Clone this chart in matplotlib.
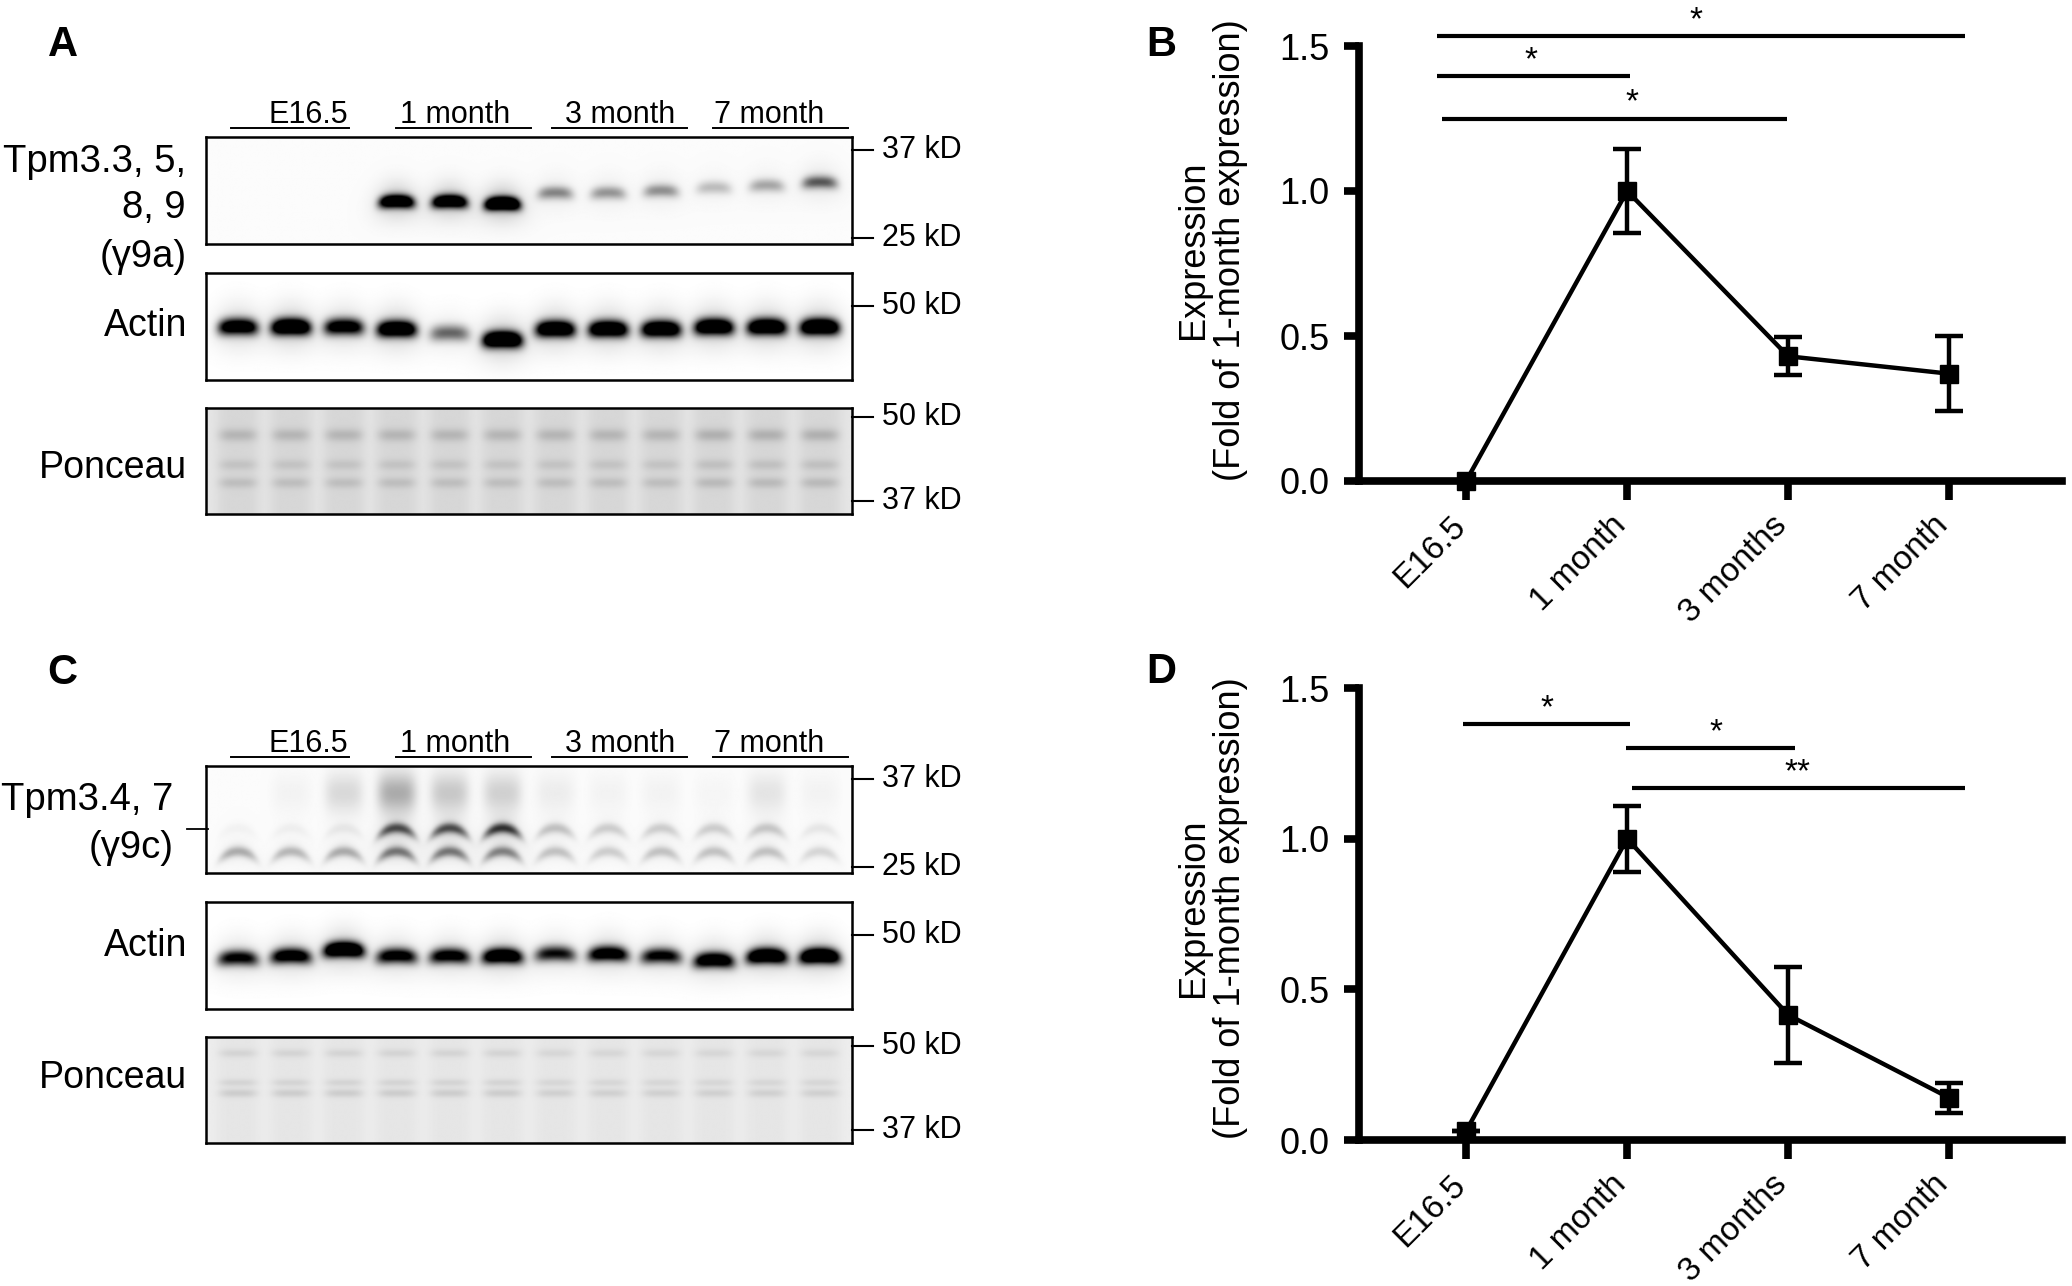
import matplotlib
matplotlib.use("Agg")
import matplotlib.pyplot as plt
import numpy as np
from matplotlib.lines import Line2D

plt.rcParams['font.family'] = ['Liberation Sans', 'DejaVu Sans']

W, H = 2072, 1286

# ---- data ----
groups = ['E16.5', '1 month', '3 month', '7 month']
timepoints = ['E16.5', '1 month', '3 months', '7 month']

# blot band strengths, 12 lanes (3 per group)
a_tpm = [0.0, 0.0, 0.0, 1.5, 1.5, 1.8, 0.42, 0.36, 0.38, 0.22, 0.30, 0.58]
a_tpm_pos = [0.60, 0.60, 0.60, 0.60, 0.60, 0.62, 0.52, 0.52, 0.50, 0.47, 0.45, 0.42]
a_actin = [1.3, 1.6, 1.2, 1.5, 0.55, 1.7, 1.5, 1.5, 1.5, 1.5, 1.5, 1.6]
a_actin_pos = [0.50, 0.50, 0.50, 0.52, 0.56, 0.62, 0.52, 0.52, 0.52, 0.50, 0.50, 0.50]
a_ponceau = [0.13, 0.13, 0.13, 0.13, 0.13, 0.13, 0.13, 0.13, 0.13, 0.15, 0.15, 0.15]

c_upper = [0.03, 0.04, 0.06, 0.6, 0.6, 0.7, 0.2, 0.16, 0.16, 0.16, 0.18, 0.07]
c_lower = [0.28, 0.24, 0.28, 0.46, 0.46, 0.42, 0.2, 0.16, 0.2, 0.2, 0.2, 0.13]
c_smear = [0.0, 0.03, 0.12, 0.28, 0.18, 0.15, 0.05, 0.03, 0.03, 0.02, 0.08, 0.03]
c_actin = [1.0, 1.2, 1.6, 1.1, 1.1, 1.4, 0.9, 1.2, 1.0, 1.3, 1.5, 1.6]
c_actin_pos = [0.52, 0.50, 0.44, 0.50, 0.50, 0.50, 0.48, 0.48, 0.50, 0.54, 0.50, 0.50]
c_ponceau = [0.07, 0.07, 0.07, 0.07, 0.07, 0.07, 0.06, 0.06, 0.06, 0.06, 0.06, 0.06]

# quantification (fold of 1-month)
b_mean = [0.0, 1.0, 0.43, 0.37]
b_err = [0.0, 0.145, 0.065, 0.13]
d_mean = [0.03, 1.0, 0.415, 0.14]
d_err = [0.0, 0.11, 0.16, 0.05]

# significance bars: (x1, x2, y, label, label x)
b_sig = [(-0.18, 3.1, 1.535, '*', 1.43),
         (-0.18, 1.02, 1.395, '*', 0.40),
         (-0.15, 1.99, 1.25, '*', 1.03)]
d_sig = [(-0.02, 1.02, 1.381, '*', 0.50),
         (0.99, 2.04, 1.301, '*', 1.55),
         (1.03, 3.1, 1.169, '**', 2.06)]

fig = plt.figure(figsize=(W / 100, H / 100), dpi=100)


def px_axes(x0, y0, x1, y1):
    return fig.add_axes([x0 / W, 1 - y1 / H, (x1 - x0) / W, (y1 - y0) / H])


def ftext(x, y, s, **kw):
    fig.text(x / W, 1 - y / H, s, **kw)


LANE_X = np.linspace(-0.6, 11.6, 700)
LANE_Y = np.linspace(0, 1, 120)


def render_gel(ax, layers, bg=0.0, lane_bg=0.0, halo=0.0):
    X, Y = np.meshgrid(LANE_X, LANE_Y)
    img = np.full(X.shape, bg)
    if lane_bg:
        lane = np.zeros(X.shape)
        for i in range(12):
            lane += np.exp(-np.abs((X - i) / 0.42) ** 4)
        img = img + lane_bg * lane
    for amps, pos, sx, sy, curv in layers:
        for i in range(12):
            dx = X - i
            yc = pos[i] + curv * dx ** 2
            img += amps[i] * np.exp(-np.abs(dx / sx) ** 4) * np.exp(-((Y - yc) / sy) ** 2)
            if halo:
                img += amps[i] * halo * np.exp(-(dx / (sx * 1.2)) ** 2) * \
                    np.exp(-((Y - yc) / (sy * 3.0)) ** 2)
    ax.imshow(np.clip(img, 0, 1), cmap='gray_r', vmin=0, vmax=1, aspect='auto',
              extent=(-0.6, 11.6, 1, 0), interpolation='bilinear')
    ax.set_xticks([])
    ax.set_yticks([])
    for s in ax.spines.values():
        s.set_linewidth(1.8)


def mw_marks(ax, marks):
    for lab, yf in marks:
        ax.add_line(Line2D([1.0, 1.0 + 21 / 646], [1 - yf, 1 - yf], transform=ax.transAxes,
                           color='k', lw=1.5, clip_on=False))
        ax.text(1.0 + 30 / 646, 1 - yf, lab, transform=ax.transAxes, fontsize=22,
                va='center', ha='left')


def blot_panel(dy, top_layers, actin_layers, pon_layers, pon_bg, pon_lane):
    ax1 = px_axes(206, 137 + dy, 852, 244 + dy)
    ax2 = px_axes(206, 273 + dy, 852, 380 + dy)
    ax3 = px_axes(206, 408 + dy, 852, 514 + dy)
    render_gel(ax1, top_layers, bg=0.015, halo=0.12)
    render_gel(ax2, actin_layers, bg=0.0, halo=0.1)
    render_gel(ax3, pon_layers, bg=pon_bg, lane_bg=pon_lane)
    mw_marks(ax1, [('37 kD', 0.12), ('25 kD', 0.94)])
    mw_marks(ax2, [('50 kD', 0.31)])
    mw_marks(ax3, [('50 kD', 0.085), ('37 kD', 0.88)])
    # group labels above the top blot
    spans = [(-0.13, 2.1), (2.99, 5.54), (5.93, 8.48), (8.98, 11.52)]
    centers = [1.33, 4.11, 7.22, 10.04]
    for g, (s0, s1), c in zip(groups, spans, centers):
        ax1.add_line(Line2D([s0, s1], [1.084, 1.084], transform=ax1.get_xaxis_transform(),
                            color='k', lw=1.4, clip_on=False))
        ax1.text(c, 1.135, g, transform=ax1.get_xaxis_transform(), fontsize=22,
                 ha='center', va='baseline')
    return ax1, ax2, ax3


# panel A blots
blot_panel(0,
           [(a_tpm, a_tpm_pos, 0.33, 0.06, 0.15)],
           [(a_actin, a_actin_pos, 0.37, 0.075, 0.1)],
           [(a_ponceau, [0.26] * 12, 0.36, 0.06, 0.0),
            ([v * 0.6 for v in a_ponceau], [0.54] * 12, 0.36, 0.05, 0.0),
            ([v * 0.75 for v in a_ponceau], [0.71] * 12, 0.36, 0.05, 0.0)],
           0.1, 0.06)
ftext(186, 172, 'Tpm3.3, 5,', fontsize=27.5, ha='right', va='baseline')
ftext(186, 218, '8, 9', fontsize=27.5, ha='right', va='baseline')
ftext(187, 267, '(γ9a)', fontsize=27.5, ha='right', va='baseline')
ftext(187, 336, 'Actin', fontsize=27, ha='right', va='baseline')
ftext(187, 478, 'Ponceau', fontsize=27, ha='right', va='baseline')

# panel C blots
dC = 629
blot_panel(dC,
           [(c_upper, [0.58] * 12, 0.34, 0.05, 0.6),
            (c_lower, [0.80] * 12, 0.34, 0.05, 0.6),
            (c_smear, [0.25] * 12, 0.36, 0.18, 0.0)],
           [(c_actin, c_actin_pos, 0.38, 0.07, 0.15)],
           [(c_ponceau, [0.15] * 12, 0.36, 0.04, 0.0),
            (c_ponceau, [0.43] * 12, 0.36, 0.035, 0.0),
            ([v * 1.4 for v in c_ponceau], [0.53] * 12, 0.36, 0.04, 0.0)],
           0.07, 0.03)
ftext(173, 810, 'Tpm3.4, 7', fontsize=27.5, ha='right', va='baseline')
ftext(174, 858, '(γ9c)', fontsize=27.5, ha='right', va='baseline')
fig.add_artist(Line2D([187 / W, 208 / W], [1 - 829 / H, 1 - 829 / H], color='k', lw=1.3))
ftext(187, 956, 'Actin', fontsize=27, ha='right', va='baseline')
ftext(187, 1088, 'Ponceau', fontsize=27, ha='right', va='baseline')


# quantification panels
def line_panel(top, bottom, mean, err, sig, label_y):
    ax = px_axes(1359, top, 2062, bottom)
    x = np.arange(len(timepoints))
    ax.errorbar(x, mean, yerr=err, fmt='none', ecolor='k', elinewidth=3.2,
                capsize=10, capthick=3.2, zorder=3, clip_on=False)
    ax.plot(x, mean, color='k', lw=3.2, marker='s', ms=13, zorder=4, clip_on=False)
    ax.set_xlim(-0.665, 3.70)
    ax.set_ylim(0, 1.5)
    ax.set_yticks([0.0, 0.5, 1.0, 1.5])
    ax.set_yticklabels(['0.0', '0.5', '1.0', '1.5'], fontsize=26)
    ax.set_xticks(x)
    ax.set_xticklabels([])
    for xi, lab in zip(x, timepoints):
        ax.annotate(lab, (xi, 0), xycoords=('data', 'axes fraction'),
                    xytext=(-12, -21), textcoords='offset points', fontsize=24,
                    rotation=45, ha='right', va='top', rotation_mode='anchor',
                    annotation_clip=False)
    ax.spines['top'].set_visible(False)
    ax.spines['right'].set_visible(False)
    ax.spines['left'].set_linewidth(5.5)
    ax.spines['bottom'].set_linewidth(5.5)
    ax.tick_params(axis='y', width=5.5, length=11, pad=10)
    ax.tick_params(axis='x', width=5.5, length=14)
    for x1, x2, y, lab, lx in sig:
        ax.plot([x1, x2], [y, y], color='k', lw=3, clip_on=False, solid_capstyle='butt')
        ax.annotate(lab, (lx, y), xytext=(0, 11), textcoords='offset points',
                    ha='center', va='center', fontsize=24, annotation_clip=False)
    ftext(1212, label_y, 'Expression\n(Fold of 1-month expression)', fontsize=26,
          rotation=90, ha='center', va='center', linespacing=1.05, multialignment='center')
    return ax


line_panel(46, 481, b_mean, b_err, b_sig, 250)
line_panel(688, 1140, d_mean, d_err, d_sig, 908)

# panel letters
for lab, x, y in [('A', 48, 56), ('B', 1146, 56), ('C', 47, 684), ('D', 1146, 683)]:
    ftext(x, y, lab, fontsize=30, fontweight='bold', va='baseline', ha='left')

fig.savefig('out.png', dpi=100, facecolor='white')
